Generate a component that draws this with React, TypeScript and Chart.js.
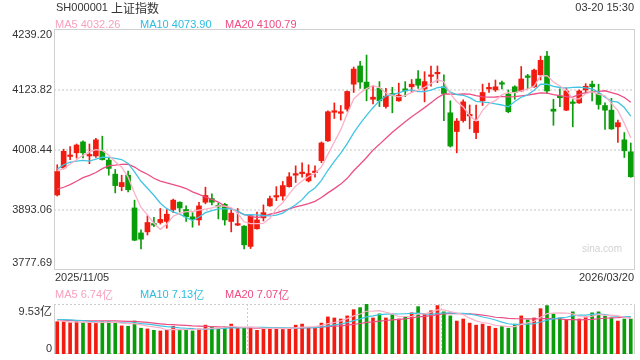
import React, { useEffect, useRef } from "react";
import { Chart, registerables } from "chart.js";

Chart.register(...registerables);

// ---------- data ----------
const titleCode = "SH000001";
const titleName = "上证指数";
const timeStamp = "03-20 15:30";
const firstDate = "2025/11/05";
const lastDate = "2026/03/20";

const opens = [
  3922, 3974, 3996, 4003, 4024, 3997, 3997, 4006, 3989, 3962,
  3938, 3960, 3897, 3849, 3851, 3867, 3869, 3871, 3894, 3908,
  3894, 3880, 3874, 3908, 3915, 3901, 3904, 3871, 3864, 3862,
  3823, 3857, 3878, 3901, 3918, 3920, 3938, 3960, 3963, 3949,
  3965, 3988, 4026, 4081, 4079, 4087, 4135, 4170, 4139, 4106,
  4127, 4092, 4117, 4103, 4126, 4130, 4145, 4126, 4150, 4155,
  4130, 4080, 4044, 4065, 4074, 4042, 4103, 4126, 4124, 4137,
  4116, 4130, 4122, 4151, 4130, 4153, 4189, 4087, 4111, 4085,
  4100, 4099, 4124, 4135, 4117, 4094, 4085, 4053, 4028, 4005,
];
const highs = [
  3980, 4010, 4015, 4020, 4026, 4020, 4031, 4035, 3994, 3971,
  3960, 3968, 3912, 3855, 3882, 3879, 3896, 3894, 3914, 3909,
  3901, 3888, 3908, 3937, 3924, 3906, 3906, 3893, 3896, 3863,
  3884, 3889, 3903, 3920, 3938, 3948, 3965, 3978, 3984, 3980,
  3978, 4024, 4084, 4099, 4094, 4122, 4168, 4179, 4191, 4132,
  4140, 4127, 4129, 4137, 4140, 4144, 4161, 4159, 4170, 4170,
  4153, 4103, 4069, 4105, 4095, 4095, 4135, 4137, 4143, 4141,
  4124, 4132, 4169, 4154, 4164, 4189, 4198, 4106, 4126, 4128,
  4106, 4124, 4136, 4141, 4135, 4099, 4108, 4066, 4042, 4022,
];
const lows = [
  3920, 3972, 3990, 3993, 3993, 3982, 3994, 3989, 3960, 3926,
  3930, 3928, 3834, 3818, 3845, 3861, 3866, 3858, 3888, 3889,
  3871, 3860, 3864, 3905, 3903, 3876, 3864, 3851, 3863, 3818,
  3819, 3856, 3872, 3900, 3911, 3912, 3937, 3946, 3956, 3947,
  3956, 3984, 4025, 4069, 4066, 4083, 4119, 4127, 4103, 4097,
  4092, 4089, 4080, 4102, 4111, 4119, 4127, 4101, 4131, 4138,
  4065, 4014, 4003, 4062, 4049, 4030, 4094, 4119, 4121, 4126,
  4080, 4106, 4121, 4126, 4129, 4143, 4117, 4056, 4092, 4084,
  4053, 4098, 4117, 4103, 4087, 4048, 4048, 4023, 3994, 3956,
];
const closes = [
  3967, 4006, 3998, 4018, 4003, 3999, 4028, 3990, 3973, 3940,
  3946, 3932, 3835, 3837, 3869, 3864, 3875, 3885, 3912, 3897,
  3880, 3875, 3901, 3921, 3908, 3899, 3874, 3887, 3866, 3826,
  3882, 3874, 3888, 3915, 3920, 3940, 3957, 3963, 3965, 3963,
  3968, 4022, 4082, 4084, 4082, 4121, 4164, 4139, 4126, 4110,
  4103, 4112, 4114, 4114, 4122, 4135, 4133, 4140, 4152, 4157,
  4117, 4016, 4064, 4101, 4076, 4064, 4119, 4128, 4130, 4135,
  4082, 4119, 4145, 4148, 4162, 4181, 4122, 4083, 4109, 4122,
  4098, 4122, 4131, 4130, 4096, 4085, 4049, 4061, 4007, 3957,
];
// closes of the 19 sessions before the first visible one (for the moving averages)
const priorCloses = [
  3933, 3897, 3889, 3865, 3912, 3916, 3839, 3864, 3917, 3914,
  3922, 3950, 3996, 3988, 4016, 3987, 3955, 3976, 3960,
];
// volume in 亿
const volumes = [
  6.15, 6.15, 5.95, 6.15, 5.95, 5.95, 5.95, 6.15, 6.15, 5.95,
  5.36, 5.29, 6.28, 4.91, 4.78, 4.51, 4.39, 4.51, 5.29, 4.51,
  4.65, 4.39, 4.78, 5.50, 5.23, 4.84, 5.17, 5.70, 4.97, 4.97,
  4.97, 4.51, 4.97, 4.97, 4.97, 4.71, 4.71, 5.50, 5.70, 5.11,
  5.11, 5.89, 7.07, 6.87, 6.67, 7.26, 8.45, 8.84, 9.53, 6.87,
  7.65, 6.87, 7.46, 6.67, 7.07, 7.85, 9.03, 7.65, 8.24, 9.23,
  8.04, 7.26, 6.28, 6.67, 5.89, 5.50, 5.70, 5.29, 4.91, 5.29,
  4.91, 5.70, 7.26, 6.48, 6.87, 8.64, 9.23, 7.65, 6.87, 6.48,
  8.04, 6.67, 7.07, 7.85, 8.04, 7.26, 6.87, 6.28, 6.67, 6.67,
];
const priorVolumes = [
  6.9, 6.5, 6.6, 6.2, 6.4, 6.8, 6.1, 5.9, 6.3, 6.2,
  6.0, 6.4, 7.0, 6.7, 7.2, 6.9, 6.6, 6.3, 6.1,
];

const priceTicks = [4239.2, 4123.82, 4008.44, 3893.06, 3777.69];
const volumeTicks = [9.53, 0];
const maPeriods = [5, 10, 20];
const priceMALegend = ["4032.26", "4073.90", "4100.79"];
const volumeMALegend = ["6.74", "7.13", "7.07"];

// ---------- styles ----------
const UP = "#f21b10";
const DOWN = "#0a9d0a";
const MA_LINE = ["#fbb1c8", "#42c5e3", "#ec4f86"];
const MA_TEXT = ["#f7a2bf", "#2ebde0", "#ef4a80"];
const FONT = '"Liberation Sans", Arial, sans-serif';
const CJK = '"Noto Sans CJK SC", sans-serif';

function movingAverage(values: number[], prior: number[], n: number): number[] {
  const all = [...prior, ...values];
  return values.map((_, i) => {
    const end = prior.length + i;
    let s = 0;
    for (let k = end - n + 1; k <= end; k++) s += all[k];
    return s / n;
  });
}

const labels = closes.map((_, i) => String(i));
const candleColors = closes.map((c, i) => (c >= opens[i] ? UP : DOWN));

function dotted(ctx: CanvasRenderingContext2D, x1: number, y1: number, x2: number, y2: number, color: string, w = 1) {
  ctx.save();
  ctx.strokeStyle = color;
  ctx.lineWidth = w;
  ctx.setLineDash([2, 2]);
  ctx.beginPath();
  ctx.moveTo(x1, y1);
  ctx.lineTo(x2, y2);
  ctx.stroke();
  ctx.restore();
}

function legendRow(ctx: CanvasRenderingContext2D, y: number, values: string[], suffix: string) {
  const xs = [55, 140, 225];
  ctx.textBaseline = "middle";
  ctx.textAlign = "left";
  values.forEach((v, k) => {
    ctx.fillStyle = MA_TEXT[k];
    const t1 = `MA${maPeriods[k]} ${v}`;
    ctx.font = `11px ${FONT}`;
    ctx.fillText(t1, xs[k], y);
    if (suffix) {
      const w = ctx.measureText(t1).width;
      ctx.font = `11px ${CJK}`;
      ctx.fillText(suffix, xs[k] + w, y);
    }
  });
}

const pricePlugin = {
  id: "pricePanel",
  beforeDatasetsDraw(chart: any) {
    const { ctx, chartArea: a, scales } = chart;
    const y = scales.y;
    for (let k = 1; k < priceTicks.length - 1; k++) {
      const py = Math.round(y.getPixelForValue(priceTicks[k]));
      dotted(ctx, a.left, py, a.right, py, "#d9d9d9", 1.5);
    }
    ctx.save();
    ctx.strokeStyle = "#d0d0d0";
    ctx.lineWidth = 1;
    ctx.strokeRect(a.left + 0.5, a.top - 0.5, a.width, a.height);
    ctx.restore();
  },
  afterDraw(chart: any) {
    const { ctx, chartArea: a, scales } = chart;
    const y = scales.y;
    ctx.save();
    // title
    ctx.fillStyle = "#333";
    ctx.textBaseline = "middle";
    ctx.textAlign = "left";
    ctx.font = `11px ${FONT}`;
    ctx.fillText(titleCode, 56, 8);
    const w = ctx.measureText(titleCode + " ").width;
    ctx.font = `12px ${CJK}`;
    ctx.fillText(titleName, 56 + w, 8);
    ctx.font = `11px ${FONT}`;
    ctx.textAlign = "right";
    ctx.fillText(timeStamp, 634, 8);
    // legend
    legendRow(ctx, 24.5, priceMALegend, "");
    // y labels
    ctx.fillStyle = "#333";
    ctx.font = `11px ${FONT}`;
    ctx.textAlign = "right";
    priceTicks.forEach((t, k) => {
      let py = y.getPixelForValue(t);
      if (k === 0) py += 5;
      if (k === priceTicks.length - 1) py -= 7;
      ctx.fillText(t.toFixed(2), 52, py);
    });
    // dates
    ctx.textAlign = "left";
    ctx.fillText(firstDate, 55, a.bottom + 7.5);
    ctx.textAlign = "right";
    ctx.fillText(lastDate, 634, a.bottom + 7.5);
    // watermark
    ctx.fillStyle = "#d2d2d2";
    ctx.font = `10px ${FONT}`;
    ctx.textAlign = "left";
    ctx.fillText("sina.com", 582, 249);
    ctx.restore();
  },
};

const volumePlugin = {
  id: "volumePanel",
  beforeDatasetsDraw(chart: any) {
    const { ctx, chartArea: a } = chart;
    dotted(ctx, a.left, a.top + 0.5, a.right, a.top + 0.5, "#cccccc", 1);
    dotted(ctx, a.left, a.bottom - 0.5, a.right, a.bottom - 0.5, "#cccccc", 1);
    for (let k = 1; k <= 2; k++) {
      const px = Math.round(a.left + (a.width * k) / 3) + 0.5;
      dotted(ctx, px, a.top, px, a.bottom, "#cccccc", 1);
    }
    ctx.save();
    ctx.strokeStyle = "#d0d0d0";
    ctx.lineWidth = 1;
    ctx.beginPath();
    ctx.moveTo(a.left + 0.5, a.top);
    ctx.lineTo(a.left + 0.5, a.bottom);
    ctx.moveTo(a.right + 0.5, a.top);
    ctx.lineTo(a.right + 0.5, a.bottom);
    ctx.stroke();
    ctx.restore();
  },
  afterDraw(chart: any) {
    const { ctx, chartArea: a, scales } = chart;
    const y = scales.y;
    ctx.save();
    legendRow(ctx, 294.5, volumeMALegend, "亿");
    ctx.fillStyle = "#333";
    ctx.textBaseline = "middle";
    ctx.textAlign = "right";
    volumeTicks.forEach((t, k) => {
      let py = y.getPixelForValue(t);
      if (k === 0) {
        py += 7.5;
        ctx.font = `12px ${CJK}`;
        const wy = ctx.measureText("亿").width;
        ctx.fillText("亿", 52, py);
        ctx.font = `11px ${FONT}`;
        ctx.fillText(t.toFixed(2), 52 - wy, py);
      } else {
        py -= 5.5;
        ctx.font = `11px ${FONT}`;
        ctx.fillText(String(t), 52, py);
      }
    });
    ctx.restore();
  },
};

function baseOptions(padding: any, min: number, max: number) {
  return {
    responsive: false,
    animation: false as const,
    events: [] as any[],
    layout: { padding },
    plugins: { legend: { display: false }, tooltip: { enabled: false } },
    scales: {
      x: { type: "category" as const, display: false, offset: true, grid: { display: false } },
      y: { display: false, min, max },
    },
  };
}

export default function App() {
  const priceRef = useRef<HTMLCanvasElement>(null);
  const volRef = useRef<HTMLCanvasElement>(null);

  useEffect(() => {
    const maLines = maPeriods.map((n) => movingAverage(closes, priorCloses, n));
    const volMaLines = maPeriods.map((n) => movingAverage(volumes, priorVolumes, n));

    const priceChart = new Chart(priceRef.current as HTMLCanvasElement, {
      type: "bar",
      data: {
        labels,
        datasets: [
          ...maLines.map((d, k) => ({
            type: "line" as const,
            data: d,
            borderColor: MA_LINE[k],
            borderWidth: 1.3,
            pointRadius: 0,
            tension: 0,
            order: 1,
          })),
          {
            type: "bar" as const,
            data: opens.map((o, i) => [o, closes[i]]),
            backgroundColor: candleColors,
            barThickness: 5,
            minBarLength: 1.5,
            grouped: false,
            borderWidth: 0,
            order: 2,
          },
          {
            type: "bar" as const,
            data: lows.map((l, i) => [l, highs[i]]),
            backgroundColor: candleColors,
            barThickness: 1,
            grouped: false,
            borderWidth: 0,
            order: 3,
          },
        ] as any,
      },
      options: baseOptions(
        { left: 54, right: 6, top: 30, bottom: 90 },
        priceTicks[priceTicks.length - 1],
        priceTicks[0]
      ) as any,
      plugins: [pricePlugin],
    });

    const volChart = new Chart(volRef.current as HTMLCanvasElement, {
      type: "bar",
      data: {
        labels,
        datasets: [
          ...volMaLines.map((d, k) => ({
            type: "line" as const,
            data: d,
            borderColor: MA_LINE[k],
            borderWidth: 1.2,
            pointRadius: 0,
            tension: 0,
            order: 1,
          })),
          {
            type: "bar" as const,
            data: volumes,
            backgroundColor: candleColors,
            barThickness: 3,
            grouped: false,
            borderWidth: 0,
            order: 2,
          },
        ] as any,
      },
      options: baseOptions({ left: 54, right: 6, top: 304, bottom: 6 }, 0, volumeTicks[0]) as any,
      plugins: [volumePlugin],
    });

    return () => {
      priceChart.destroy();
      volChart.destroy();
    };
  }, []);

  return (
    <div style={{ position: "fixed", left: 0, top: 0, width: 640, height: 360, background: "#fff" }}>
      <canvas ref={priceRef} width={640} height={360} style={{ position: "absolute", left: 0, top: 0 }} />
      <canvas ref={volRef} width={640} height={360} style={{ position: "absolute", left: 0, top: 0 }} />
    </div>
  );
}
